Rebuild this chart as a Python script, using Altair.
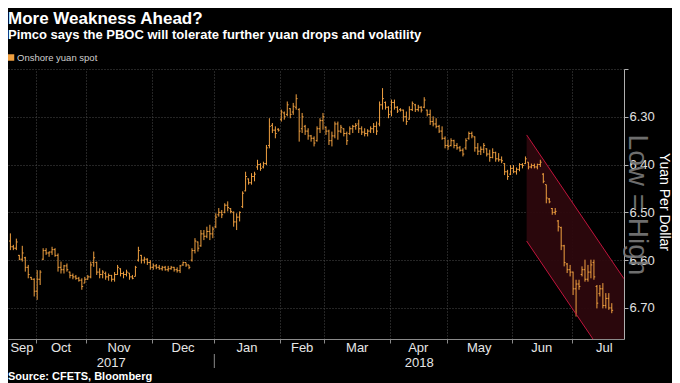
import altair as alt
import pandas as pd

W, H = 616, 270
FONT = "Liberation Sans, Arial, sans-serif"
ORANGE = "#f0a040"

# Daily onshore yuan (USD/CNY) bars: trading days Sep 2017 - Jul 2018
day_low = [
    6.544, 6.568, 6.555, 6.589, 6.570, 6.593, 6.610, 6.635, 6.638, 6.621,
    6.621, 6.575, 6.575, 6.582, 6.572, 6.575, 6.586, 6.603, 6.610, 6.607,
    6.624, 6.628, 6.631, 6.635, 6.638, 6.635, 6.631, 6.603, 6.582, 6.603,
    6.617, 6.621, 6.624, 6.628, 6.631, 6.625,
    6.610, 6.617, 6.624, 6.620, 6.627, 6.631, 6.612, 6.572, 6.589, 6.593,
    6.596, 6.600, 6.607, 6.608, 6.610, 6.612, 6.612, 6.612, 6.612, 6.614,
    6.615, 6.610, 6.603, 6.605, 6.610, 6.575, 6.554, 6.561, 6.537, 6.537,
    6.530, 6.526, 6.530,
    6.502, 6.491, 6.495, 6.481, 6.477, 6.491, 6.498, 6.502, 6.498, 6.456,
    6.415, 6.429, 6.418, 6.415, 6.390, 6.397, 6.394, 6.359, 6.303, 6.313,
    6.320, 6.324, 6.285, 6.289, 6.268, 6.282, 6.271, 6.253, 6.282, 6.292,
    6.317, 6.324, 6.338, 6.341,
    6.320, 6.303, 6.292, 6.320, 6.327, 6.331, 6.310, 6.310, 6.317, 6.324,
    6.331, 6.320, 6.317, 6.313, 6.306, 6.320, 6.324, 6.326, 6.320, 6.313,
    6.310, 6.268, 6.240, 6.268, 6.278, 6.264, 6.264, 6.278, 6.282, 6.285,
    6.289, 6.278, 6.268, 6.273, 6.275, 6.278,
    6.259, 6.285, 6.285, 6.299, 6.303, 6.317, 6.320, 6.341, 6.348, 6.345,
    6.348, 6.355, 6.361, 6.366, 6.345, 6.331, 6.331, 6.341, 6.355, 6.362,
    6.355, 6.366, 6.369, 6.366, 6.373, 6.376, 6.383, 6.397, 6.411, 6.401,
    6.401, 6.406, 6.397, 6.397, 6.383, 6.395, 6.398, 6.398, 6.398, 6.390,
    6.418, 6.442, 6.470, 6.491, 6.491, 6.516, 6.530, 6.568, 6.606, 6.610,
    6.624, 6.641, 6.641, 6.613, 6.599, 6.610, 6.599, 6.599, 6.652, 6.652,
    6.648, 6.669, 6.669, 6.690,
]
day_high = [
    6.579, 6.579, 6.579, 6.600, 6.603, 6.624, 6.638, 6.641, 6.676, 6.683,
    6.652, 6.600, 6.589, 6.593, 6.589, 6.593, 6.624, 6.628, 6.628, 6.624,
    6.638, 6.640, 6.641, 6.645, 6.662, 6.648, 6.641, 6.638, 6.614, 6.631,
    6.638, 6.638, 6.641, 6.643, 6.645, 6.645,
    6.631, 6.634, 6.638, 6.634, 6.641, 6.640, 6.634, 6.603, 6.607, 6.607,
    6.610, 6.620, 6.620, 6.619, 6.620, 6.622, 6.622, 6.624, 6.620, 6.624,
    6.626, 6.627, 6.612, 6.614, 6.619, 6.603, 6.586, 6.582, 6.572, 6.558,
    6.554, 6.558, 6.554,
    6.533, 6.509, 6.512, 6.502, 6.498, 6.502, 6.530, 6.537, 6.519, 6.491,
    6.456, 6.442, 6.442, 6.435, 6.411, 6.413, 6.408, 6.401, 6.366, 6.334,
    6.345, 6.331, 6.310, 6.306, 6.299, 6.303, 6.296, 6.285, 6.352, 6.334,
    6.338, 6.348, 6.352, 6.362,
    6.352, 6.334, 6.327, 6.338, 6.359, 6.362, 6.345, 6.348, 6.334, 6.341,
    6.359, 6.338, 6.334, 6.327, 6.334, 6.338, 6.341, 6.341, 6.334, 6.334,
    6.338, 6.320, 6.285, 6.285, 6.303, 6.299, 6.285, 6.292, 6.289, 6.310,
    6.317, 6.306, 6.288, 6.290, 6.289, 6.291,
    6.282, 6.299, 6.317, 6.320, 6.324, 6.334, 6.348, 6.366, 6.369, 6.362,
    6.366, 6.369, 6.373, 6.383, 6.369, 6.348, 6.345, 6.373, 6.380, 6.380,
    6.376, 6.383, 6.394, 6.387, 6.394, 6.394, 6.397, 6.422, 6.432, 6.422,
    6.418, 6.421, 6.414, 6.408, 6.399, 6.410, 6.408, 6.408, 6.410, 6.405,
    6.439, 6.481, 6.481, 6.505, 6.505, 6.540, 6.579, 6.613, 6.627, 6.634,
    6.673, 6.718, 6.662, 6.634, 6.645, 6.645, 6.638, 6.641, 6.701, 6.676,
    6.701, 6.701, 6.704, 6.711,
]
day_open = [
    6.560, 6.572, 6.575, 6.590, 6.598, 6.595, 6.615, 6.636, 6.640, 6.665,
    6.640, 6.598, 6.580, 6.585, 6.583, 6.578, 6.590, 6.615, 6.620, 6.612,
    6.625, 6.632, 6.635, 6.638, 6.642, 6.648, 6.640, 6.635, 6.605, 6.605,
    6.625, 6.630, 6.628, 6.635, 6.632, 6.640,
    6.630, 6.618, 6.628, 6.630, 6.627, 6.635, 6.634, 6.600, 6.590, 6.600,
    6.598, 6.605, 6.615, 6.612, 6.615, 6.618, 6.615, 6.620, 6.618, 6.615,
    6.620, 6.622, 6.610, 6.605, 6.610, 6.600, 6.580, 6.562, 6.570, 6.545,
    6.550, 6.540, 6.545,
    6.530, 6.505, 6.500, 6.500, 6.485, 6.492, 6.500, 6.520, 6.510, 6.488,
    6.455, 6.430, 6.438, 6.425, 6.405, 6.400, 6.405, 6.398, 6.360, 6.318,
    6.328, 6.326, 6.305, 6.292, 6.295, 6.283, 6.290, 6.280, 6.285, 6.325,
    6.320, 6.330, 6.340, 6.345,
    6.350, 6.325, 6.308, 6.322, 6.330, 6.350, 6.340, 6.315, 6.330, 6.325,
    6.335, 6.335, 6.325, 6.320, 6.315, 6.325, 6.332, 6.335, 6.330, 6.325,
    6.320, 6.315, 6.275, 6.270, 6.280, 6.290, 6.270, 6.280, 6.285, 6.286,
    6.300, 6.305, 6.285, 6.275, 6.285, 6.280,
    6.280, 6.286, 6.295, 6.310, 6.315, 6.320, 6.330, 6.345, 6.360, 6.360,
    6.350, 6.360, 6.365, 6.370, 6.365, 6.345, 6.335, 6.342, 6.365, 6.372,
    6.368, 6.367, 6.378, 6.385, 6.375, 6.388, 6.390, 6.398, 6.415, 6.420,
    6.408, 6.415, 6.410, 6.400, 6.398, 6.395, 6.405, 6.402, 6.405, 6.400,
    6.420, 6.442, 6.472, 6.492, 6.500, 6.518, 6.532, 6.570, 6.608, 6.620,
    6.625, 6.660, 6.650, 6.630, 6.620, 6.640, 6.625, 6.605, 6.655, 6.670,
    6.660, 6.695, 6.680, 6.700,
]
day_close = [
    6.572, 6.575, 6.562, 6.598, 6.585, 6.615, 6.630, 6.640, 6.665, 6.640,
    6.625, 6.580, 6.585, 6.583, 6.578, 6.590, 6.615, 6.620, 6.612, 6.620,
    6.632, 6.635, 6.638, 6.642, 6.655, 6.640, 6.635, 6.610, 6.595, 6.625,
    6.630, 6.625, 6.635, 6.632, 6.640, 6.630,
    6.615, 6.628, 6.630, 6.625, 6.635, 6.638, 6.615, 6.580, 6.600, 6.598,
    6.605, 6.615, 6.612, 6.615, 6.618, 6.615, 6.620, 6.618, 6.615, 6.620,
    6.622, 6.612, 6.605, 6.610, 6.615, 6.580, 6.560, 6.575, 6.545, 6.550,
    6.540, 6.545, 6.535,
    6.510, 6.500, 6.505, 6.485, 6.490, 6.498, 6.520, 6.510, 6.500, 6.460,
    6.425, 6.438, 6.425, 6.420, 6.400, 6.408, 6.398, 6.365, 6.320, 6.328,
    6.335, 6.328, 6.290, 6.300, 6.275, 6.295, 6.278, 6.262, 6.330, 6.300,
    6.330, 6.340, 6.345, 6.355,
    6.325, 6.308, 6.300, 6.330, 6.350, 6.340, 6.315, 6.330, 6.322, 6.335,
    6.350, 6.325, 6.320, 6.318, 6.325, 6.332, 6.335, 6.330, 6.325, 6.320,
    6.330, 6.275, 6.262, 6.280, 6.295, 6.270, 6.280, 6.288, 6.286, 6.300,
    6.310, 6.285, 6.272, 6.285, 6.280, 6.286,
    6.265, 6.295, 6.310, 6.315, 6.320, 6.330, 6.345, 6.360, 6.362, 6.350,
    6.360, 6.365, 6.370, 6.378, 6.350, 6.335, 6.340, 6.365, 6.372, 6.368,
    6.360, 6.378, 6.385, 6.375, 6.388, 6.390, 6.392, 6.415, 6.425, 6.408,
    6.415, 6.410, 6.400, 6.402, 6.388, 6.405, 6.402, 6.405, 6.400, 6.395,
    6.435, 6.470, 6.478, 6.500, 6.498, 6.530, 6.570, 6.605, 6.620, 6.625,
    6.660, 6.650, 6.655, 6.620, 6.640, 6.625, 6.610, 6.635, 6.690, 6.660,
    6.695, 6.680, 6.700, 6.705,
]

# x axis: trading-day positions of month starts and labels
month_names = ["Sep", "Oct", "Nov", "Dec", "Jan", "Feb", "Mar", "Apr", "May", "Jun", "Jul"]
month_label_pos = [4.4, 17.5, 37, 58.5, 80, 98.5, 117, 137.5, 158, 179, 200]
month_bounds = [9, 26, 48, 69, 91, 106, 128, 147, 169, 189]
year_names = ["2017", "2018"]
year_pos = [34.4, 137.8]
year_split = [69]
y_ticks = [6.2, 6.3, 6.4, 6.5, 6.6, 6.7]
X_DOMAIN = [-0.3, 206.6]
Y_DOMAIN = [6.20, 6.765]

# downward channel drawn on the chart
channel_x = [173.9, 206.6]
channel_top = [6.338, 6.639]
channel_bottom = [6.560, 6.861]

n = len(day_low)
bars = pd.DataFrame({
    "day": list(range(n)),
    "low": day_low, "high": day_high, "open": day_open, "close": day_close,
})
bars["xc"] = bars["day"] + 0.5
bars["xl"] = bars["day"] + 0.05
bars["xr"] = bars["day"] + 0.95

chan = pd.DataFrame({"cx": channel_x, "ctop": channel_top, "cbot": channel_bottom})
months = pd.DataFrame({"pos": month_label_pos, "name": month_names})
years = pd.DataFrame({"pos": year_pos, "name": year_names})
split = pd.DataFrame({"pos": year_split})

xs = alt.Scale(domain=X_DOMAIN, nice=False, zero=False)
ys = alt.Scale(domain=Y_DOMAIN, nice=False, zero=False, reverse=True)

xax = alt.Axis(values=month_bounds, labels=False, title=None, grid=True,
               gridColor="#4a4a4a", gridDash=[1, 2], gridWidth=1,
               ticks=True, tickSize=4, tickColor="#8a8a8a",
               domain=True, domainColor="#8a8a8a")
yax = alt.Axis(orient="right", values=y_ticks, title=None, grid=True,
               gridColor="#4a4a4a", gridDash=[1, 2], gridWidth=1,
               labelExpr="datum.value < 6.25 ? '' : format(datum.value, '.2f')",
               labelColor="#e0e0e0", labelFontSize=13, labelFont=FONT, labelPadding=1,
               ticks=True, tickSize=4, tickColor="#b0b0b0",
               domain=True, domainColor="#b0b0b0")

area = alt.Chart(chan).mark_area(color="#2c070d", opacity=0.95, clip=True).encode(
    x=alt.X("cx:Q", scale=xs, axis=xax),
    y=alt.Y("ctop:Q", scale=ys, axis=yax),
    y2="cbot:Q",
)
edge_top = alt.Chart(chan).mark_line(color="#c0143c", strokeWidth=1, clip=True).encode(
    x=alt.X("cx:Q", scale=xs, axis=xax),
    y=alt.Y("ctop:Q", scale=ys, axis=yax),
)
edge_bot = alt.Chart(chan).mark_line(color="#c0143c", strokeWidth=1, clip=True).encode(
    x=alt.X("cx:Q", scale=xs, axis=xax),
    y=alt.Y("cbot:Q", scale=ys, axis=yax),
)
rng = alt.Chart(bars).mark_rule(color=ORANGE, strokeWidth=1).encode(
    x=alt.X("xc:Q", scale=xs, axis=xax),
    y=alt.Y("low:Q", scale=ys, axis=yax),
    y2="high:Q",
)
otick = alt.Chart(bars).mark_rule(color=ORANGE, strokeWidth=1).encode(
    x=alt.X("xl:Q", scale=xs, axis=xax), x2="xc:Q",
    y=alt.Y("open:Q", scale=ys, axis=yax),
)
ctick = alt.Chart(bars).mark_rule(color=ORANGE, strokeWidth=1).encode(
    x=alt.X("xc:Q", scale=xs, axis=xax), x2="xr:Q",
    y=alt.Y("close:Q", scale=ys, axis=yax),
)

month_text = alt.Chart(months).mark_text(
    font=FONT, fontSize=13, color="#e6e6e6", baseline="alphabetic", align="center"
).encode(x=alt.X("pos:Q", scale=xs, axis=xax), y=alt.value(H + 13), text="name:N")
year_text = alt.Chart(years).mark_text(
    font=FONT, fontSize=13, color="#e6e6e6", baseline="alphabetic", align="center"
).encode(x=alt.X("pos:Q", scale=xs, axis=xax), y=alt.value(H + 28), text="name:N")
year_rule = alt.Chart(split).mark_rule(color="#8a8a8a", strokeWidth=1).encode(
    x=alt.X("pos:Q", scale=xs, axis=xax), y=alt.value(H + 15), y2=alt.value(H + 29)
)


def label(txt, x, y, **kw):
    return alt.Chart(pd.DataFrame({"t": [txt]})).mark_text(font=FONT, **kw).encode(
        x=alt.value(x), y=alt.value(y), text="t:N"
    )


title = label("More Weakness Ahead?", 0, -45, fontSize=17, fontWeight="bold",
              color="#ffffff", align="left", baseline="alphabetic")
subtitle = label("Pimco says the PBOC will tolerate further yuan drops and volatility", 0, -30,
                 fontSize=13, fontWeight="bold", color="#ffffff", align="left",
                 baseline="alphabetic")
legend_txt = label("Onshore yuan spot", 9, -8, fontSize=9.5, color="#cfcfcf",
                   align="left", baseline="alphabetic")
legend_sym = alt.Chart(pd.DataFrame({"t": ["Onshore yuan spot"]})).mark_square(
    size=42, color=ORANGE, opacity=1
).encode(x=alt.value(3), y=alt.value(-11.5))
source = label("Source: CFETS, Bloomberg", 0, H + 41, fontSize=11, fontWeight="bold",
               color="#ffffff", align="left", baseline="alphabetic")
lowhigh = label("Low = High", W + 13, 136, fontSize=28, color="#7a7a7a", angle=90,
                align="center", baseline="middle", opacity=0.9)
ytitle = label("Yuan Per Dollar", W + 40, 133, fontSize=14, color="#ffffff", angle=90,
               align="center", baseline="middle")

chart = alt.layer(
    area, rng, otick, ctick, edge_top, edge_bot,
    month_text, year_text, year_rule,
    lowhigh, ytitle, title, subtitle, legend_sym, legend_txt, source,
).properties(
    width=W, height=H,
    padding={"left": 0, "top": 61, "right": 48, "bottom": 44},
    autosize=alt.AutoSizeParams(type="none"),
    background="#000000",
).configure_view(stroke=None)

chart.save("out.html", embed_options={"renderer": "svg", "actions": False})
